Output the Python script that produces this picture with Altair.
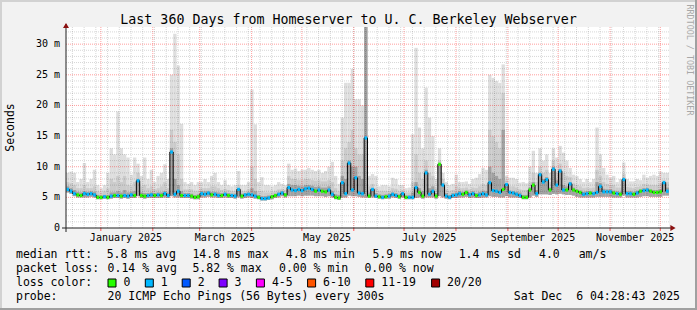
import altair as alt
import pandas as pd

# ------------------------------------------------------------------
# Data: one sample every 2 days, values in ms
# ------------------------------------------------------------------
T0 = pd.Timestamp("2024-12-11 04:28:43")
day = list(range(0, 360, 2))

median = [
    6.3, 6.0, 5.6, 5.4, 5.3, 5.6, 5.5, 5.6, 5.4, 5.0,
    5.0, 5.1, 5.0, 5.2, 5.3, 5.3, 5.2, 5.3, 5.2, 5.4,
    5.3, 7.7, 5.3, 5.2, 5.3, 5.4, 5.3, 5.4, 5.3, 5.6,
    5.3, 12.4, 5.5, 6.0, 5.3, 5.3, 5.3, 5.2, 5.0, 5.1,
    5.6, 5.5, 5.7, 5.4, 5.5, 5.3,
    5.3, 5.5, 5.3, 5.3, 5.2, 6.3, 5.2, 5.4, 5.5, 5.4,
    5.2, 5.0, 4.8, 4.8, 4.9, 5.1, 5.3, 5.5, 5.7, 5.4,
    6.6, 6.2, 6.1, 6.3, 6.1, 6.4, 6.5, 6.3, 6.0, 6.2,
    6.0, 5.9, 6.2, 5.5, 5.0, 4.9, 7.4, 5.6, 10.6, 6.2,
    8.2, 5.7, 5.6, 14.7,
    5.2, 6.3, 5.2, 5.1, 5.0, 5.1, 5.2, 5.5, 5.3, 5.1,
    5.6, 5.0, 5.0, 5.0, 6.6, 5.8, 5.2, 9.0, 5.5, 6.0,
    5.2, 10.4, 7.0, 5.2, 5.0, 5.3, 5.4, 5.6, 5.5, 5.8,
    5.4, 5.6, 5.3, 5.4, 5.6, 5.4, 7.4, 6.1, 6.0, 5.8,
    6.3, 7.1, 5.8, 5.7, 5.5,
    5.3, 5.0, 5.0, 6.2, 7.0, 5.6, 8.7, 7.5, 7.9, 6.2,
    9.6, 7.0, 9.3, 6.2, 6.2, 7.2, 6.2, 6.0, 5.8, 5.5,
    5.6, 5.7, 5.6, 5.8, 6.8, 5.9, 5.9, 5.9, 5.7, 5.6,
    5.5, 7.9, 5.6, 5.6, 5.5, 5.7, 6.0, 6.1, 6.2, 6.0,
    5.8, 5.8, 5.9, 7.4, 6.0,
]

# lost pings per sample (0 -> green, 1 -> light blue)
loss = [
    1, 1, 1, 0, 0, 1, 1, 1, 1, 0,
    0, 1, 0, 1, 0, 1, 0, 1, 1, 1,
    0, 1, 0, 0, 1, 1, 0, 1, 0, 1,
    1, 1, 1, 1, 0, 1, 1, 0, 0, 0,
    1, 1, 1, 0, 1, 1,
    0, 1, 0, 1, 1, 1, 0, 1, 1, 1,
    1, 0, 1, 1, 1, 0, 0, 1, 1, 0,
    1, 1, 1, 1, 1, 1, 1, 1, 0, 1,
    0, 0, 1, 1, 0, 0, 1, 1, 1, 1,
    1, 1, 1, 1,
    0, 1, 1, 0, 1, 0, 1, 1, 1, 0,
    1, 0, 1, 1, 1, 0, 0, 1, 1, 1,
    0, 0, 1, 1, 1, 1, 1, 1, 0, 0,
    1, 1, 0, 1, 1, 1, 1, 1, 1, 1,
    0, 1, 1, 1, 1,
    1, 0, 0, 0, 0, 1, 1, 1, 1, 0,
    1, 1, 1, 1, 0, 1, 0, 0, 0, 1,
    1, 0, 1, 1, 1, 1, 1, 1, 0, 1,
    0, 1, 1, 1, 0, 1, 0, 1, 1, 0,
    0, 0, 0, 1, 1,
]

smoke_lo = [
    5.8, 5.6, 5.2, 5.0, 5.0, 5.0, 5.0, 5.1, 5.0, 4.7,
    4.7, 4.8, 4.7, 4.8, 4.9, 4.9, 4.8, 4.9, 4.8, 4.9,
    4.9, 5.2, 4.9, 4.8, 4.9, 4.9, 4.9, 4.9, 4.9, 5.0,
    4.9, 5.2, 5.0, 5.0, 4.9, 4.9, 4.9, 4.8, 4.7, 4.7,
    5.0, 5.0, 5.1, 5.0, 5.0, 4.9,
    4.9, 5.0, 4.9, 4.9, 4.8, 5.0, 4.8, 4.9, 5.0, 4.9,
    4.8, 4.7, 4.5, 4.5, 4.6, 4.7, 4.9, 5.0, 5.2, 5.0,
    5.2, 5.2, 5.2, 5.3, 5.2, 5.3, 5.3, 5.3, 5.2, 5.2,
    5.2, 5.1, 5.2, 5.0, 4.7, 4.6, 5.0, 5.0, 5.3, 5.2,
    5.2, 5.1, 5.0, 5.0,
    4.9, 5.0, 4.9, 4.8, 4.7, 4.8, 4.8, 5.0, 4.9, 4.8,
    5.0, 4.7, 4.7, 4.7, 4.9, 5.0, 4.8, 5.0, 5.0, 5.0,
    4.8, 5.2, 5.0, 4.8, 4.7, 4.9, 4.9, 5.0, 5.0, 5.1,
    4.9, 5.0, 4.9, 4.9, 5.0, 5.0, 5.2, 5.1, 5.1, 5.0,
    5.0, 5.2, 5.0, 5.0, 5.0,
    4.9, 4.7, 4.7, 5.0, 5.3, 5.1, 5.5, 5.5, 5.5, 5.4,
    5.6, 5.5, 5.6, 5.5, 5.4, 5.4, 5.3, 5.1, 5.0, 5.0,
    5.0, 5.0, 5.0, 5.1, 5.1, 5.1, 5.1, 5.1, 5.0, 5.0,
    5.0, 5.3, 5.0, 5.0, 5.0, 5.0, 5.1, 5.2, 5.2, 5.1,
    5.1, 5.1, 5.1, 5.3, 5.3,
]

smoke_dark = [
    6.8, 6.5, 6.2, 5.9, 5.8, 6.0, 5.9, 6.0, 5.9, 5.4,
    5.3, 5.4, 5.4, 5.8, 5.8, 6.0, 5.8, 6.2, 5.8, 5.9,
    6.0, 8.0, 5.8, 5.7, 5.7, 5.8, 5.7, 5.8, 5.8, 6.0,
    5.8, 13.0, 8.0, 7.0, 6.0, 5.7, 5.7, 5.6, 5.4, 5.5,
    6.0, 6.0, 6.0, 5.9, 5.9, 5.8,
    5.7, 5.8, 5.7, 5.6, 5.6, 6.5, 5.6, 5.7, 5.8, 6.5,
    6.0, 5.4, 5.2, 5.2, 5.3, 5.4, 5.6, 5.8, 6.0, 5.7,
    7.2, 7.0, 7.0, 6.9, 6.8, 7.0, 7.0, 6.9, 6.7, 6.8,
    6.6, 6.6, 6.8, 6.0, 5.5, 5.4, 8.5, 8.0, 11.0, 10.0,
    10.0, 8.5, 8.0, 33.0,
    5.8, 6.5, 5.7, 5.5, 5.4, 5.5, 5.6, 5.8, 5.7, 5.5,
    5.8, 5.3, 5.3, 5.8, 7.5, 6.5, 6.0, 9.5, 6.5, 6.8,
    5.7, 10.4, 7.3, 5.7, 5.4, 5.7, 5.8, 6.0, 5.9, 6.1,
    5.8, 6.0, 5.7, 5.9, 6.1, 6.0, 10.0, 9.0, 8.5, 8.0,
    16.0, 7.3, 6.1, 6.0, 5.9,
    5.8, 5.4, 5.4, 6.6, 7.5, 6.2, 9.0, 8.0, 8.3, 6.6,
    10.0, 7.8, 9.6, 7.0, 6.8, 7.5, 6.6, 6.3, 6.1, 5.9,
    6.0, 6.0, 5.9, 7.5, 7.3, 6.4, 6.3, 6.3, 6.1, 6.0,
    5.9, 8.2, 6.0, 6.0, 5.9, 6.1, 6.3, 6.5, 6.5, 6.3,
    6.2, 6.2, 6.3, 7.5, 6.6,
]

smoke_mid = [
    7.5, 7.3, 7.0, 6.5, 6.5, 7.0, 6.5, 6.5, 6.8, 6.0,
    5.8, 6.0, 6.5, 8.0, 7.5, 8.5, 7.5, 8.5, 7.0, 6.8,
    7.5, 9.0, 6.8, 7.0, 6.5, 6.8, 6.3, 6.5, 6.8, 7.5,
    6.5, 16.0, 14.0, 12.0, 8.0, 6.3, 6.3, 6.3, 6.0, 6.0,
    6.5, 6.5, 6.5, 6.8, 6.8, 6.5,
    6.2, 6.4, 6.2, 6.0, 6.0, 7.0, 6.0, 6.0, 6.3, 10.0,
    8.0, 6.0, 6.0, 5.8, 5.8, 5.9, 6.0, 6.3, 6.4, 6.2,
    8.5, 8.0, 8.0, 7.8, 7.8, 8.0, 8.0, 7.8, 7.7, 7.8,
    7.6, 7.6, 7.8, 7.5, 6.5, 6.0, 11.0, 13.0, 14.0, 16.0,
    13.0, 12.0, 12.0, 33.0,
    6.8, 7.2, 6.5, 6.0, 6.0, 6.0, 6.0, 6.5, 6.4, 6.0,
    6.2, 5.8, 5.8, 7.5, 12.0, 9.0, 8.0, 11.0, 9.0, 8.5,
    6.5, 11.0, 8.0, 6.3, 6.0, 6.2, 6.8, 6.5, 6.5, 6.6,
    6.3, 6.6, 6.5, 6.8, 7.2, 7.0, 16.0, 15.0, 14.0, 13.0,
    22.0, 7.8, 6.8, 6.8, 6.6,
    6.3, 6.2, 6.2, 7.5, 9.0, 7.5, 10.0, 9.0, 9.5, 7.5,
    11.0, 9.0, 10.5, 9.0, 8.5, 8.3, 7.3, 7.0, 6.8, 6.5,
    6.6, 6.5, 6.6, 9.5, 8.5, 7.5, 7.2, 7.0, 7.0, 6.6,
    6.6, 8.8, 6.7, 6.6, 6.5, 6.7, 6.8, 7.2, 7.1, 7.0,
    7.0, 7.0, 7.2, 7.8, 7.5,
]

smoke_max = [
    9.0, 9.2, 9.0, 7.5, 8.0, 10.6, 7.5, 8.0, 9.5, 7.0,
    6.5, 7.0, 9.0, 13.0, 12.0, 19.0, 13.0, 12.0, 11.5, 8.7,
    11.5, 10.5, 8.5, 11.5, 8.0, 9.5, 7.5, 8.5, 9.0, 10.4,
    8.0, 25.0, 31.7, 26.5, 17.0, 7.5, 7.2, 7.5, 7.0, 7.5,
    7.5, 8.0, 7.5, 8.5, 9.0, 7.5,
    7.0, 7.8, 7.0, 6.8, 7.0, 9.3, 7.0, 7.0, 7.5, 22.6,
    16.9, 7.5, 8.3, 7.0, 7.0, 6.8, 7.0, 7.5, 7.2, 7.0,
    10.5, 9.5, 9.7, 9.3, 9.5, 9.5, 9.8, 9.5, 9.3, 9.5,
    9.0, 9.3, 10.0, 10.8, 8.5, 7.2, 18.0, 23.7, 23.7, 26.0,
    21.0, 21.0, 20.0, 33.0,
    8.5, 8.8, 8.5, 6.8, 7.0, 7.0, 6.8, 8.2, 8.0, 7.0,
    7.0, 6.5, 6.6, 15.3, 29.4, 16.4, 13.0, 22.9, 18.0, 15.0,
    8.0, 13.0, 9.0, 7.5, 7.0, 7.2, 8.7, 7.5, 7.5, 7.6,
    7.2, 8.0, 8.2, 8.8, 9.8, 9.5, 25.0, 24.5, 24.0, 23.7,
    26.7, 8.5, 8.2, 8.2, 8.0,
    7.4, 7.5, 7.3, 10.0, 12.6, 9.0, 13.0, 11.0, 12.0, 9.0,
    13.0, 11.5, 13.4, 12.3, 11.0, 9.8, 8.7, 8.5, 8.0, 7.5,
    8.0, 7.5, 8.0, 16.4, 12.0, 9.8, 8.7, 8.2, 8.5, 7.5,
    8.0, 10.7, 8.0, 7.6, 7.6, 8.0, 7.8, 8.7, 8.2, 8.5,
    8.7, 8.5, 9.2, 9.0, 9.0,
]

for arr in (median, loss, smoke_lo, smoke_dark, smoke_mid, smoke_max):
    assert len(arr) == len(day), len(arr)

# axis / grid values
month_starts = ["2025-%02d-01" % m for m in range(1, 13)]
month_labels = ["January 2025", "March 2025", "May 2025", "July 2025",
                "September 2025", "November 2025"]
month_label_at = ["2025-01-16", "2025-03-16", "2025-05-16", "2025-07-16",
                  "2025-09-16", "2025-11-16"]
week_lines = pd.date_range("2024-12-15", "2025-12-01", freq="7D")
y_major = [0, 5, 10, 15, 20, 25, 30]
y_major_labels = ["0\u00a0\u00a0", "5 m", "10 m", "15 m", "20 m", "25 m", "30 m"]
y_minor = [v for v in range(1, 33) if v % 5 != 0]

title = "Last 360 Days from Homeserver to U. C. Berkeley Webserver"
row1 = ["median rtt:", "5.8 ms avg", "14.8 ms max", "4.8 ms min", "5.9 ms now",
        "1.4 ms sd", "4.0", "am/s"]
row2 = ["packet loss:", "0.14 % avg", "5.82 % max", "0.00 % min", "0.00 % now"]
loss_names = ["0", "1", "2", "3", "4-5", "6-10", "11-19", "20/20"]
loss_colors = ["#26ff00", "#00b8ff", "#0059ff", "#7e00ff", "#ff00ff",
               "#ff5500", "#ff0000", "#a10000"]
probe_text = "20 ICMP Echo Pings (56 Bytes) every 300s"
stamp_text = "Sat Dec\u00a0\u00a06 04:28:43 2025"

# ------------------------------------------------------------------
# layout (pixels)
# ------------------------------------------------------------------
L, T, W, H = 66, 27, 603, 201
MONO = "DejaVu Sans Mono"
row1_x = [16, 106.7, 192.4, 285.8, 372.4, 458.7, 539, 578.7]
row2_x = [16, 107.6, 192.4, 279, 364.4]
box_x = [108, 145.3, 182.2, 219.1, 256.4, 307.6, 365.8, 431.6]

df = pd.DataFrame({
    "day": day, "median": median, "loss": loss, "lo": smoke_lo,
    "dk": smoke_dark, "mid": smoke_mid, "mx": smoke_max,
})
df["start"] = T0 + pd.to_timedelta(df["day"], unit="D")
df["end"] = df["start"] + pd.Timedelta(days=2)
df["centre"] = df["start"] + pd.Timedelta(days=1)
df["dot0"] = df["start"] + pd.Timedelta(hours=5)
df["dot1"] = df["start"] + pd.Timedelta(hours=43)
df["med_lo"] = df["median"] - 0.26
df["med_hi"] = df["median"] + 0.26

xscale = alt.Scale(domain=[alt.DateTime(year=2024, month=12, date=11, hours=4, minutes=28, seconds=43),
                           alt.DateTime(year=2025, month=12, date=6, hours=4, minutes=28, seconds=43)])
yscale = alt.Scale(domain=[0, 32.8], nice=False, zero=False)

base = alt.Chart(df)


def band(lo, hi, colour):
    return base.mark_rect(color=colour, clip=True).encode(
        x=alt.X("start:T", scale=xscale, axis=None),
        x2="end:T",
        y=alt.Y(lo + ":Q", scale=yscale, axis=None),
        y2=hi + ":Q",
    )


def text(s, X, Y, size, align="left", baseline="alphabetic", colour="#000000", angle=0):
    return alt.Chart(pd.DataFrame({"t": [s]})).mark_text(
        align=align, baseline=baseline, font=MONO, fontSize=size,
        color=colour, angle=angle,
    ).encode(x=alt.value(X - L), y=alt.value(Y - T), text="t:N")


layers = [
    band("lo", "mx", "#dedede"),
    band("lo", "mid", "#cbcbcb"),
    band("lo", "dk", "#a2a2a2"),
]

# grid (drawn over the smoke, like rrdtool)
layers.append(alt.Chart(pd.DataFrame({"v": y_minor})).mark_rule(
    color="#000000", opacity=0.16, strokeDash=[1, 1]).encode(
    y=alt.Y("v:Q", scale=yscale, axis=None), x=alt.value(0), x2=alt.value(W)))
layers.append(alt.Chart(pd.DataFrame({"d": week_lines})).mark_rule(
    color="#000000", opacity=0.16, strokeDash=[1, 1]).encode(
    x=alt.X("d:T", scale=xscale, axis=None), y=alt.value(0), y2=alt.value(H)))
layers.append(alt.Chart(pd.DataFrame({"v": y_major[1:]})).mark_rule(
    color="#ff0000", opacity=0.38, strokeDash=[1, 1]).encode(
    y=alt.Y("v:Q", scale=yscale, axis=None), x=alt.value(0), x2=alt.value(W)))
months_df = pd.DataFrame({"d": pd.to_datetime(month_starts)})
layers.append(alt.Chart(months_df).mark_rule(
    color="#ff0000", opacity=0.38, strokeDash=[1, 1]).encode(
    x=alt.X("d:T", scale=xscale, axis=None), y=alt.value(0), y2=alt.value(H)))
layers.append(alt.Chart(months_df).mark_rule(color="#ff5050").encode(
    x=alt.X("d:T", scale=xscale, axis=None), y=alt.value(H), y2=alt.value(H + 3)))

# median line and loss-coloured median marks
layers.append(base.mark_line(color="#000000", strokeWidth=1, interpolate="step", clip=True).encode(
    x=alt.X("centre:T", scale=xscale, axis=None), y=alt.Y("median:Q", scale=yscale, axis=None)))
layers.append(base.mark_rect(clip=True).encode(
    x=alt.X("dot0:T", scale=xscale, axis=None), x2="dot1:T",
    y=alt.Y("med_lo:Q", scale=yscale, axis=None), y2="med_hi:Q",
    color=alt.Color("loss:O", scale=alt.Scale(domain=[0, 1], range=[loss_colors[0], loss_colors[1]]),
                    legend=None)))

# axes
layers.append(alt.Chart(pd.DataFrame({"a": [0]})).mark_rule(color="#202020").encode(
    x=alt.value(-4), x2=alt.value(W + 2), y=alt.value(H)))
layers.append(alt.Chart(pd.DataFrame({"a": [0]})).mark_rule(color="#202020").encode(
    x=alt.value(0), y=alt.value(-3), y2=alt.value(H + 4)))
layers.append(alt.Chart(pd.DataFrame({"a": [0]})).mark_point(
    shape="triangle-up", filled=True, size=36, color="#8b1010", opacity=1).encode(
    x=alt.value(0), y=alt.value(-1.5)))
layers.append(alt.Chart(pd.DataFrame({"a": [0]})).mark_point(
    shape="triangle-right", filled=True, size=36, color="#8b1010", opacity=1).encode(
    x=alt.value(W + 4), y=alt.value(H)))

# tick labels
layers.append(alt.Chart(pd.DataFrame({"v": y_major, "t": y_major_labels})).mark_text(
    align="right", baseline="middle", font=MONO, fontSize=10, color="#000000").encode(
    y=alt.Y("v:Q", scale=yscale, axis=None), x=alt.value(60 - L), text="t:N"))
layers.append(alt.Chart(pd.DataFrame({"d": pd.to_datetime(month_label_at), "t": month_labels})).mark_text(
    align="center", baseline="alphabetic", font=MONO, fontSize=10, color="#000000").encode(
    x=alt.X("d:T", scale=xscale, axis=None), y=alt.value(241 - T), text="t:N"))

# titles
layers.append(text(title, 348.5, 24, 13.3, align="center"))
layers.append(text("Seconds", 10.5, 127.5, 11.5, align="center", baseline="middle", angle=270))
layers.append(text("RRDTOOL / TOBI OETIKER", 690, 60, 8.4, align="center", baseline="middle",
                   colour="#a8a8a8", angle=90))

# legend rows
for s, X in zip(row1, row1_x):
    layers.append(text(s, X, 258, 11.5))
for s, X in zip(row2, row2_x):
    layers.append(text(s, X, 272, 11.5))
layers.append(text("loss color:", 16, 286, 11.5))
for s, c, X in zip(loss_names, loss_colors, box_x):
    layers.append(alt.Chart(pd.DataFrame({"a": [0]})).mark_rect(
        color=c, stroke="#000000", strokeWidth=1).encode(
        x=alt.value(X - L), x2=alt.value(X + 8 - L), y=alt.value(279 - T), y2=alt.value(287 - T)))
    layers.append(text(s, X + 15.5, 286, 11.5))
layers.append(text("probe:", 16, 300, 11.5))
layers.append(text(probe_text, 107.6, 300, 11.5))
layers.append(text(stamp_text, 680, 300, 11.5, align="right"))

# outer 3-d frame
layers.append(alt.Chart(pd.DataFrame({"a": [0]})).mark_rule(color="#d2d2d2", strokeWidth=2).encode(
    x=alt.value(-L), x2=alt.value(697 - L), y=alt.value(1 - T)))
layers.append(alt.Chart(pd.DataFrame({"a": [0]})).mark_rule(color="#d2d2d2", strokeWidth=2).encode(
    x=alt.value(1 - L), y=alt.value(-T), y2=alt.value(310 - T)))
layers.append(alt.Chart(pd.DataFrame({"a": [0]})).mark_rule(color="#a0a0a0", strokeWidth=2).encode(
    x=alt.value(-L), x2=alt.value(697 - L), y=alt.value(309 - T)))
layers.append(alt.Chart(pd.DataFrame({"a": [0]})).mark_rule(color="#a0a0a0", strokeWidth=2).encode(
    x=alt.value(696 - L), y=alt.value(-T), y2=alt.value(310 - T)))

chart = alt.layer(*layers).properties(
    width=W, height=H,
    padding={"left": L, "top": T, "right": 697 - L - W, "bottom": 310 - T - H},
    autosize=alt.AutoSizeParams(type="none"),
    background="#f2f2f2",
).configure_view(stroke=None, fill="#ffffff")

chart.save("out.html", embed_options={"renderer": "svg", "actions": False})
